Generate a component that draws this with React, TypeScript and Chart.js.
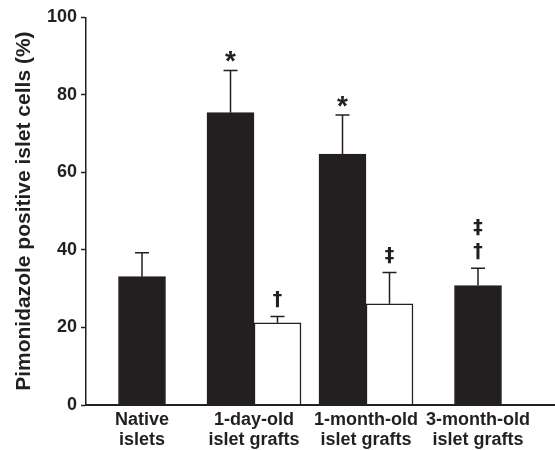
import React, { useEffect, useRef } from 'react';
import { Chart, registerables } from 'chart.js';

Chart.register(...registerables);

const categories: string[][] = [
  ['Native', 'islets'],
  ['1-day-old', 'islet grafts'],
  ['1-month-old', 'islet grafts'],
  ['3-month-old', 'islet grafts'],
];
const blackValues: (number | null)[] = [33.1, 75.4, 64.7, 30.8];
const blackErrors: (number | null)[] = [6.2, 10.9, 10.1, 4.5];
const whiteValues: (number | null)[] = [null, 21.2, 26.1, null];
const whiteErrors: (number | null)[] = [null, 1.6, 8.1, null];
const blackMarks: string[][] = [[], ['*'], ['*'], ['†', '‡']];
const whiteMarks: string[][] = [[], ['†'], ['‡'], []];
const yTickValues = [0, 20, 40, 60, 80, 100];
const yTitle = 'Pimonidazole positive islet cells (%)';

const INK = '#231f20';
const FONT = "'Liberation Sans', Arial, sans-serif";
const MARK_FONT = "'DejaVu Sans', 'Liberation Sans', sans-serif";

const errorSets = [blackErrors, whiteErrors];
const markSets = [blackMarks, whiteMarks];

const errorBarPlugin = {
  id: 'errorBars',
  afterDatasetsDraw(chart: any) {
    const ctx = chart.ctx;
    const yScale = chart.scales.y;
    ctx.save();
    chart.data.datasets.forEach((ds: any, di: number) => {
      const meta = chart.getDatasetMeta(di);
      meta.data.forEach((bar: any, i: number) => {
        const v = ds.data[i];
        const err = errorSets[di][i];
        if (v == null || err == null) return;
        const x = bar.x;
        const yTop = yScale.getPixelForValue(v + err);
        ctx.strokeStyle = INK;
        ctx.lineWidth = 1.5;
        ctx.beginPath();
        ctx.moveTo(x, bar.y);
        ctx.lineTo(x, yTop);
        ctx.moveTo(x - 7, yTop);
        ctx.lineTo(x + 7, yTop);
        ctx.stroke();
        const marks = markSets[di][i] || [];
        let bottom = yTop - 8.5;
        marks.forEach((m) => {
          ctx.font = m === '*' ? `bold 28px ${FONT}` : `bold 19px ${MARK_FONT}`;
          ctx.fillStyle = INK;
          ctx.textAlign = 'center';
          ctx.textBaseline = 'alphabetic';
          const tm = ctx.measureText(m);
          const base = bottom - tm.actualBoundingBoxDescent;
          ctx.fillText(m, x, base);
          bottom = base - tm.actualBoundingBoxAscent - 6.5;
        });
      });
    });
    ctx.restore();
  },
};

const axisLinePlugin = {
  id: 'axisLine',
  afterDraw(chart: any) {
    const { ctx, chartArea } = chart;
    ctx.save();
    ctx.strokeStyle = INK;
    ctx.lineWidth = 1.8;
    ctx.beginPath();
    ctx.moveTo(chartArea.left - 1, chartArea.bottom);
    ctx.lineTo(chart.width, chartArea.bottom);
    ctx.stroke();
    ctx.restore();
  },
};

export default function App() {
  const ref = useRef<HTMLCanvasElement | null>(null);
  useEffect(() => {
    if (!ref.current) return;
    const chart = new Chart(ref.current, {
      type: 'bar',
      data: {
        labels: categories,
        datasets: [
          {
            data: blackValues,
            backgroundColor: INK,
            borderColor: INK,
            borderWidth: 1,
          },
          {
            data: whiteValues,
            backgroundColor: '#ffffff',
            borderColor: INK,
            borderWidth: 1.5,
          },
        ],
      },
      options: {
        animation: false,
        responsive: false,
        devicePixelRatio: 1,
        layout: { padding: { top: 17.3, right: 21, bottom: 0, left: 0 } },
        datasets: {
          bar: { barThickness: 47, skipNull: true, grouped: true },
        } as any,
        plugins: {
          legend: { display: false },
          tooltip: { enabled: false },
        },
        scales: {
          x: {
            type: 'category',
            grid: { display: false, drawTicks: false },
            border: { display: false },
            afterFit(scale: any) {
              scale.height = 45;
            },
            ticks: {
              color: INK,
              padding: 5.5,
              maxRotation: 0,
              autoSkip: false,
              font: { family: FONT, size: 18, weight: 'bold', lineHeight: 1.1 },
            },
          },
          y: {
            min: 0,
            max: 100,
            afterFit(scale: any) {
              scale.width = 86;
            },
            afterBuildTicks(scale: any) {
              scale.ticks = yTickValues.map((v) => ({ value: v }));
            },
            grid: {
              drawOnChartArea: false,
              drawTicks: true,
              tickLength: 5,
              tickColor: INK,
              tickWidth: 1.5,
            },
            border: { display: true, color: INK, width: 1.5 },
            ticks: {
              color: INK,
              padding: 4,
              font: { family: FONT, size: 18, weight: 'bold' },
            },
            title: {
              display: true,
              text: yTitle,
              color: INK,
              padding: { top: 12, bottom: 9.8 },
              font: { family: FONT, size: 21, weight: 'bold', lineHeight: 1.2 },
            },
          },
        },
      },
      plugins: [errorBarPlugin, axisLinePlugin],
    } as any);
    return () => chart.destroy();
  }, []);
  return (
    <div style={{ position: 'fixed', left: 0, top: 0, width: 555, height: 450, background: '#fff' }}>
      <canvas ref={ref} width={555} height={450} />
    </div>
  );
}
